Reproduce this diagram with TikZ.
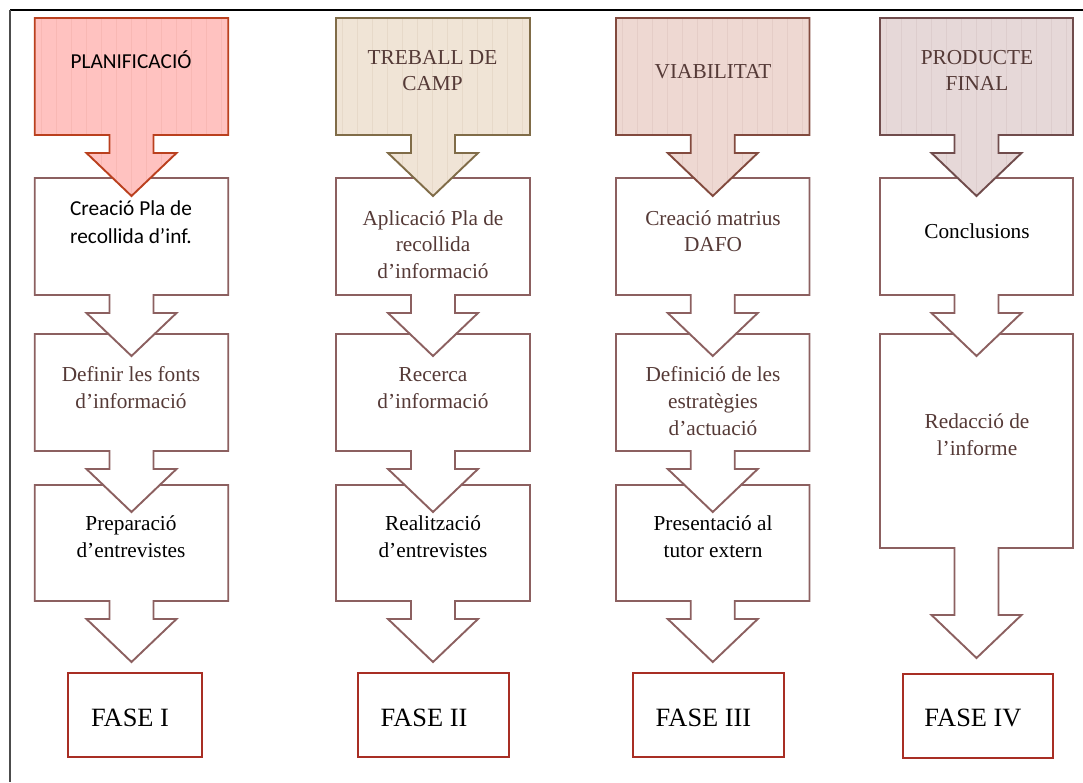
\documentclass[tikz,border=0pt]{standalone}
\usepackage{fontspec}
\setmainfont{Liberation Serif}
\newfontfamily\calib{Carlito}
\definecolor{boxline}{RGB}{140,96,96}
\definecolor{txtbrown}{RGB}{85,58,55}
\definecolor{hafill}{RGB}{255,194,192}
\definecolor{hastr}{RGB}{248,184,180}
\definecolor{haline}{RGB}{186,64,30}
\definecolor{hbfill}{RGB}{240,228,214}
\definecolor{hbstr}{RGB}{231,217,201}
\definecolor{hbline}{RGB}{128,108,72}
\definecolor{hcfill}{RGB}{238,216,210}
\definecolor{hcstr}{RGB}{229,205,199}
\definecolor{hcline}{RGB}{130,74,62}
\definecolor{hdfill}{RGB}{230,216,216}
\definecolor{hdstr}{RGB}{221,205,205}
\definecolor{hdline}{RGB}{112,76,76}
\definecolor{faseline}{RGB}{168,46,36}
\newcommand{\fs}{\rule{0pt}{22pt}}
% #1 style, #2 centre x, #3 top, #4 bottom, #5 stem length, #6 half width
\newcommand{\flowbox}[6]{%
  \draw[#1] ({#2-#6},#3) -- ({#2+#6},#3) -- ({#2+#6},#4) -- ({#2+22},#4)
    -- ({#2+22},{#4+#5}) -- ({#2+45},{#4+#5}) -- (#2,{#4+#5+43})
    -- ({#2-45},{#4+#5}) -- ({#2-22},{#4+#5}) -- ({#2-22},#4)
    -- ({#2-#6},#4) -- cycle;}
\tikzset{
  x=1pt, y=-1pt,
  flow/.style={draw=boxline, line width=1.9pt, fill=white, line join=miter},
  stripes/.style={path picture={\foreach \k in {0,...,14}{%
      \fill[#1] ([xshift=\k*15pt+6pt]path picture bounding box.north west)
        rectangle ++(1.4pt,-200pt);}}},
  hdra/.style={draw=haline, fill=hafill, line width=1.9pt, stripes=hastr},
  hdrb/.style={draw=hbline, fill=hbfill, line width=1.9pt, stripes=hbstr},
  hdrc/.style={draw=hcline, fill=hcfill, line width=1.9pt, stripes=hcstr},
  hdrd/.style={draw=hdline, fill=hdfill, line width=1.9pt, stripes=hdstr},
  fasebox/.style={draw=faseline, line width=2.2pt, fill=white},
  txt/.style={anchor=north, inner sep=0pt, align=center,
    font=\fontsize{21.3}{26.7}\selectfont},
  stxt/.style={anchor=north, inner sep=0pt, align=center,
    font=\calib\fontsize{21.3}{28.3}\selectfont},
  fasetxt/.style={anchor=base, inner sep=0pt, font=\fontsize{26.4}{30}\selectfont},
}
\begin{document}
\begin{tikzpicture}
\useasboundingbox (0,0) rectangle (1083,782);
% frame
\draw[black, line width=1.4pt] (10,10) coordinate (fa) -- (1083,10) coordinate (fb);
\draw[black!70, line width=1.8pt] (fa) -- (10,782) coordinate (fc);

% FASE boxes
\draw[fasebox] (68,673) rectangle (202,757);
\draw[fasebox] (358,673) rectangle (509,757);
\draw[fasebox] (633,673) rectangle (784,757);
\draw[fasebox] (903,674) rectangle (1053,758);

% column 1
\flowbox{flow}{131.5}{485}{601}{18}{96.75}
\flowbox{flow}{131.5}{334}{451}{18}{96.75}
\flowbox{flow}{131.5}{178}{295}{18}{96.75}
\flowbox{hdra}{131.5}{18}{135}{18}{96.75}
% column 2
\flowbox{flow}{433}{485}{601}{18}{97}
\flowbox{flow}{433}{334}{451}{18}{97}
\flowbox{flow}{433}{178}{295}{18}{97}
\flowbox{hdrb}{433}{18}{135}{18}{97}
% column 3
\flowbox{flow}{712.75}{485}{601}{18}{96.75}
\flowbox{flow}{712.75}{334}{451}{18}{96.75}
\flowbox{flow}{712.75}{178}{295}{18}{96.75}
\flowbox{hdrc}{712.75}{18}{135}{18}{96.75}
% column 4
\flowbox{flow}{976.5}{334}{548}{67}{96.5}
\flowbox{flow}{976.5}{178}{295}{18}{96.5}
\flowbox{hdrd}{976.5}{18}{135}{18}{96.5}

% header texts
\node[stxt, text=black] (ta) at (131,46.3) {\fs PLANIFICACIÓ};
\node[txt, text=txtbrown] (tb) at (432.5,42) {\fs TREBALL DE\\CAMP};
\node[txt, text=txtbrown] (tc) at (713,56.3) {\fs VIABILITAT};
\node[txt, text=txtbrown] (td) at (977,42) {\fs PRODUCTE\\FINAL};

% row 1
\node[stxt, text=black] (a1) at (131,193) {\fs Creació Pla de\\recollida d’inf.};
\node[txt, text=txtbrown] (b1) at (433,203) {\fs Aplicació Pla de\\recollida\\d’informació};
\node[txt, text=txtbrown] (c1) at (713,203) {\fs Creació matrius\\DAFO};
\node[txt, text=black] (d1) at (977,216.3) {\fs Conclusions};

% row 2
\node[txt, text=txtbrown] (a2) at (131,359.7) {\fs Definir les fonts\\d’informació};
\node[txt, text=txtbrown] (b2) at (433,359.7) {\fs Recerca\\d’informació};
\node[txt, text=txtbrown] (c2) at (713,359.7) {\fs Definició de les\\estratègies\\d’actuació};
\node[txt, text=txtbrown] (d2) at (977,406.3) {\fs Redacció de\\l’informe};

% row 3
\node[txt, text=black] (a3) at (131,508.7) {\fs Preparació\\d’entrevistes};
\node[txt, text=black] (b3) at (433,508.7) {\fs Realització\\d’entrevistes};
\node[txt, text=black] (c3) at (713,508.7) {\fs Presentació al\\tutor extern};

% FASE labels
\node[fasetxt] (fa1) at (130,726.7) {FASE I};
\node[fasetxt] (fa2) at (424,726.7) {FASE II};
\node[fasetxt] (fa3) at (703.5,726.7) {FASE III};
\node[fasetxt] (fa4) at (973,726.7) {FASE IV};
\end{tikzpicture}
\end{document}
